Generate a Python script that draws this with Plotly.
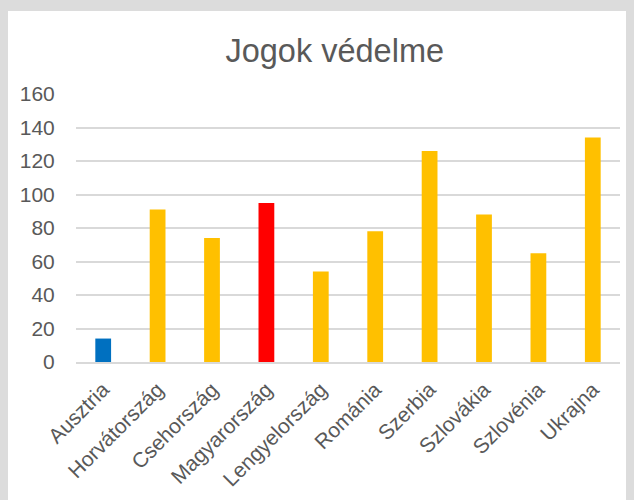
import plotly.graph_objects as go

categories = ["Ausztria", "Horvátország", "Csehország", "Magyarország", "Lengyelország",
              "Románia", "Szerbia", "Szlovákia", "Szlovénia", "Ukrajna"]
values = [14, 91, 74, 95, 54, 78, 126, 88, 65, 134]
bar_colors = ["#0070C0", "#FFC000", "#FFC000", "#FF0000", "#FFC000",
              "#FFC000", "#FFC000", "#FFC000", "#FFC000", "#FFC000"]
y_ticks = [0, 20, 40, 60, 80, 100, 120, 140, 160]

fig = go.Figure(go.Bar(x=categories, y=values, marker=dict(color=bar_colors, line=dict(width=0)),
                       hoverinfo="x+y"))

font_family = "Liberation Sans, Arial, sans-serif"
fig.update_layout(
    width=626, height=492,
    margin=dict(l=68, r=14, t=86, b=138),
    paper_bgcolor="#dcdcdc",
    plot_bgcolor="rgba(0,0,0,0)",
    bargap=0.71,
    showlegend=False,
    title=dict(text="Jogok védelme", x=0.522, xanchor="center", y=0.913, yanchor="middle",
               font=dict(family=font_family, size=32.5, color="#595959")),
    font=dict(family=font_family, color="#595959"),
    shapes=[dict(type="rect", xref="paper", yref="paper", x0=-0.125, x1=1.2, y0=-0.7, y1=1.31,
                 fillcolor="white", line=dict(width=0), layer="below")],
)
fig.update_yaxes(range=[0, 160], tickvals=y_ticks, showgrid=True, gridcolor="#d9d9d9", gridwidth=1.5,
                 zeroline=False, showline=False, ticks="outside", ticklen=16, automargin=False,
                 tickcolor="rgba(0,0,0,0)", tickfont=dict(size=21, color="#595959"))
fig.update_xaxes(showline=True, linecolor="#d9d9d9", linewidth=2, tickangle=-45,
                 ticks="outside", ticklen=5, tickcolor="rgba(0,0,0,0)", automargin=False,
                 tickfont=dict(size=21, color="#595959"))

fig.write_html("out.html", post_script="document.body.style.background='#dcdcdc';")
